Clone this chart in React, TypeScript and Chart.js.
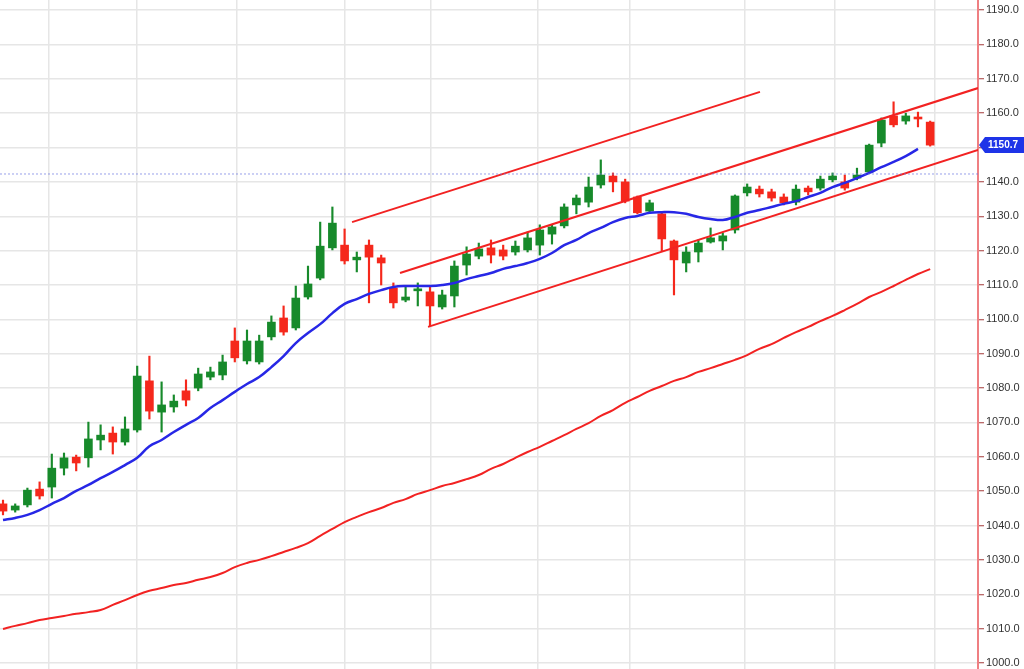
import { useEffect, useRef } from "react";
import { Chart, registerables } from "chart.js";

Chart.register(...registerables);

// ---- data (prices) ----
const opens = [1046.3,1044.5,1046.0,1050.6,1051.2,1056.7,1059.9,1059.7,1064.9,1066.9,1064.3,1067.8,1082.1,1073.0,1074.5,1079.2,1080.0,1083.2,1083.8,1093.7,1087.9,1087.6,1094.9,1100.4,1097.5,1106.5,1112.0,1120.8,1121.6,1117.3,1121.6,1117.9,1109.1,1105.6,1108.3,1108.0,1103.6,1106.8,1115.8,1118.4,1120.8,1120.2,1119.6,1120.2,1121.6,1124.8,1127.2,1133.3,1134.1,1139.1,1141.7,1140.0,1135.6,1131.5,1130.7,1122.8,1116.4,1119.6,1122.5,1122.8,1126.0,1136.8,1137.9,1137.1,1135.6,1134.1,1138.2,1138.2,1140.6,1140.0,1141.1,1142.9,1151.3,1159.2,1157.7,1158.6,1157.4];
const closes = [1044.2,1045.7,1050.3,1048.6,1056.7,1059.7,1058.2,1065.2,1066.3,1064.3,1068.1,1083.5,1073.3,1075.1,1076.2,1076.5,1084.1,1084.7,1087.6,1088.8,1093.7,1093.7,1099.2,1096.3,1106.2,1110.3,1121.3,1128.0,1117.0,1118.1,1118.1,1116.4,1104.8,1106.5,1108.8,1103.9,1107.1,1115.5,1119.0,1120.5,1118.7,1118.4,1121.3,1123.7,1126.0,1126.9,1132.7,1135.3,1138.5,1142.0,1140.0,1134.4,1131.0,1133.9,1123.4,1117.3,1119.6,1122.2,1123.7,1124.3,1135.9,1138.5,1136.5,1135.3,1133.9,1137.9,1137.1,1140.8,1141.7,1138.2,1142.0,1150.7,1158.0,1156.6,1159.2,1158.3,1150.7];
const highs = [1047.4,1046.3,1050.9,1052.7,1060.8,1061.1,1060.5,1070.1,1069.3,1068.7,1071.6,1086.4,1089.3,1081.8,1078.0,1082.4,1085.8,1086.1,1089.6,1097.5,1096.9,1095.4,1101.0,1103.9,1109.7,1115.5,1128.3,1132.7,1126.3,1119.6,1123.1,1118.7,1110.6,1109.4,1110.6,1109.4,1108.5,1117.0,1121.1,1122.2,1123.1,1121.6,1122.8,1125.4,1127.5,1127.5,1133.6,1136.2,1141.4,1146.4,1142.6,1140.8,1135.9,1134.7,1131.2,1123.1,1121.1,1123.1,1126.6,1125.1,1136.2,1139.4,1138.8,1137.9,1136.5,1139.1,1138.8,1141.7,1142.6,1142.0,1144.0,1151.0,1158.6,1163.3,1160.0,1160.3,1157.7];
const lows = [1043.1,1043.9,1045.4,1047.7,1048.0,1054.7,1055.9,1057.0,1062.0,1060.8,1063.4,1067.2,1071.0,1067.2,1073.0,1074.8,1079.2,1082.4,1082.4,1087.6,1087.0,1087.0,1094.0,1095.4,1096.9,1105.9,1111.5,1120.2,1116.1,1113.8,1104.8,1110.0,1103.3,1105.1,1103.9,1098.1,1103.0,1103.6,1112.9,1117.6,1116.4,1117.3,1118.7,1119.6,1118.7,1121.9,1126.6,1130.7,1132.7,1138.2,1137.1,1133.9,1130.7,1131.0,1119.9,1107.1,1113.8,1116.7,1122.2,1120.2,1125.1,1135.9,1135.6,1134.4,1133.3,1133.3,1136.2,1137.6,1140.0,1137.6,1140.6,1142.6,1150.2,1156.0,1156.8,1156.0,1150.4];

const maFast = [1041.6,1042.2,1043.1,1044.5,1046.3,1048.0,1050.1,1051.8,1053.8,1055.6,1057.6,1059.7,1063.1,1064.9,1067.2,1069.3,1071.3,1074.2,1076.5,1078.9,1081.2,1083.2,1086.1,1089.3,1093.1,1096.0,1098.6,1101.8,1104.5,1105.9,1107.4,1108.5,1109.4,1109.7,1109.7,1109.7,1110.0,1110.6,1111.7,1112.6,1113.5,1114.7,1115.5,1116.4,1117.6,1119.3,1121.6,1123.1,1125.1,1126.6,1128.3,1129.5,1130.1,1131.0,1131.2,1131.2,1130.7,1129.8,1129.2,1128.9,1129.8,1131.0,1131.8,1132.7,1133.6,1134.4,1135.6,1136.8,1138.5,1139.7,1141.1,1142.6,1144.3,1145.8,1147.5,1149.6,null];
const maSlow = [1009.9,1010.8,1011.6,1012.5,1013.1,1013.7,1014.3,1014.8,1015.4,1016.9,1018.3,1019.8,1021.0,1021.8,1022.7,1023.3,1024.2,1025.0,1026.2,1027.9,1029.1,1030.0,1031.1,1032.3,1033.5,1034.9,1037.0,1039.0,1041.0,1042.5,1043.9,1045.1,1046.6,1047.7,1049.2,1050.3,1051.5,1052.4,1053.5,1054.7,1056.5,1057.9,1059.7,1061.4,1062.9,1064.6,1066.3,1068.1,1069.8,1071.9,1073.6,1075.7,1077.4,1079.2,1080.6,1082.1,1083.2,1084.7,1085.8,1087.0,1088.2,1089.6,1091.4,1092.8,1094.6,1096.3,1097.8,1099.5,1101.0,1102.7,1104.5,1106.5,1108.0,1109.7,1111.5,1113.2,1114.6];

// trend lines: [startIndex, startPrice, endIndex, endPrice]
const trendUpper = [28.61, 1128.3, 62.05, 1166.2];
const trendChannelTop = [32.54, 1113.5, 79.92, 1167.3];
const trendChannelBottom = [34.84, 1097.8, 79.92, 1149.3];

const priceLine = 1142.3;
const yTicks = [1000,1010,1020,1030,1040,1050,1060,1070,1080,1090,1100,1110,1120,1130,1140,1150,1160,1170,1180,1190];
const xGridTicks = [3.77, 10.98, 19.18, 28.03, 35.08, 43.85, 51.39, 60.82, 68.2, 76.39];

const X_MIN = -0.246;
const X_MAX = 79.92;
const Y_MIN = 998.25;
const Y_MAX = 1192.93;

const GREEN = "#178a2b";
const RED = "#f5281c";

export default function App() {
  const ref = useRef<HTMLCanvasElement | null>(null);

  useEffect(() => {
    const canvas = ref.current;
    if (!canvas) return;
    const idx = opens.map((_, i) => i);
    const colors = idx.map((i) => (closes[i] >= opens[i] ? GREEN : RED));
    const lastClose = closes[closes.length - 1];

    const priceTag = {
      id: "priceTag",
      afterDraw(chart: any) {
        const ctx = chart.ctx;
        const y = chart.scales.y.getPixelForValue(lastClose);
        const x = chart.chartArea.right;
        ctx.save();
        ctx.fillStyle = "#1e34e8";
        ctx.beginPath();
        ctx.moveTo(x + 1, y);
        ctx.lineTo(x + 7, y - 8);
        ctx.lineTo(chart.width + 5, y - 8);
        ctx.lineTo(chart.width + 5, y + 8);
        ctx.lineTo(x + 7, y + 8);
        ctx.closePath();
        ctx.fill();
        ctx.fillStyle = "#ffffff";
        ctx.font = "bold 10px 'Liberation Sans', Arial, sans-serif";
        ctx.textBaseline = "middle";
        ctx.textAlign = "left";
        ctx.fillText(lastClose.toFixed(1), x + 10, y + 0.5);
        ctx.restore();
      },
    };

    const trend = (t: number[]) => [
      { x: t[0], y: t[1] },
      { x: t[2], y: t[3] },
    ];

    const chart = new Chart(canvas, {
      type: "bar",
      data: {
        datasets: [
          {
            type: "line",
            data: [
              { x: X_MIN, y: priceLine },
              { x: X_MAX, y: priceLine },
            ],
            borderColor: "rgba(110,120,225,0.7)",
            borderWidth: 1,
            borderDash: [2, 2],
            pointRadius: 0,
            order: 0,
          } as any,
          {
            type: "line",
            data: idx.map((i) => ({ x: i, y: maFast[i] })),
            borderColor: "#2727e6",
            borderWidth: 2.5,
            pointRadius: 0,
            tension: 0.4,
            spanGaps: false,
            order: 0,
          } as any,
          {
            type: "line",
            data: idx.map((i) => ({ x: i, y: maSlow[i] })),
            borderColor: "#f22222",
            borderWidth: 2,
            pointRadius: 0,
            tension: 0.4,
            order: 0,
          } as any,
          {
            type: "line",
            data: trend(trendUpper),
            borderColor: "#f22222",
            borderWidth: 2,
            pointRadius: 0,
            order: 0,
          } as any,
          {
            type: "line",
            data: trend(trendChannelTop),
            borderColor: "#f22222",
            borderWidth: 2,
            pointRadius: 0,
            order: 0,
          } as any,
          {
            type: "line",
            data: trend(trendChannelBottom),
            borderColor: "#f22222",
            borderWidth: 2,
            pointRadius: 0,
            order: 0,
          } as any,
          {
            type: "bar",
            data: idx.map((i) => ({ x: i, y: [lows[i], highs[i]] })),
            backgroundColor: colors,
            barThickness: 1.5,
            grouped: false,
            borderWidth: 0,
            borderSkipped: false,
            order: 2,
          } as any,
          {
            type: "bar",
            data: idx.map((i) => ({ x: i, y: [opens[i], closes[i]] })),
            backgroundColor: colors,
            barThickness: 8,
            minBarLength: 2,
            grouped: false,
            borderWidth: 0,
            borderSkipped: false,
            order: 1,
          } as any,
        ],
      },
      options: {
        animation: false,
        responsive: false,
        maintainAspectRatio: false,
        layout: { padding: 0 },
        plugins: {
          legend: { display: false },
          tooltip: { enabled: false },
        },
        scales: {
          x: {
            type: "linear",
            min: X_MIN,
            max: X_MAX,
            offset: false,
            grid: {
              color: "#e6e6e6",
              lineWidth: 1.5,
              drawTicks: false,
              offset: false,
            },
            border: { display: false },
            ticks: { display: false },
            afterBuildTicks: (s: any) => {
              s.ticks = xGridTicks.map((v) => ({ value: v }));
            },
            afterFit: (s: any) => {
              s.height = 0;
              s.paddingLeft = 0;
              s.paddingRight = 0;
            },
          },
          y: {
            type: "linear",
            position: "right",
            min: Y_MIN,
            max: Y_MAX,
            grid: {
              color: "#e6e6e6",
              lineWidth: 1.5,
              tickColor: "#a33a3a",
              tickLength: 6,
              tickWidth: 1,
            },
            border: { color: "#ef7f82", width: 2 },
            ticks: {
              color: "#333333",
              padding: 2,
              font: { size: 11, family: "'Liberation Sans', Arial, sans-serif" },
              callback: (v: any) => Number(v).toFixed(1),
            },
            afterBuildTicks: (s: any) => {
              s.ticks = yTicks.map((v) => ({ value: v }));
            },
            afterFit: (s: any) => {
              s.width = 46;
              s.paddingTop = 0;
              s.paddingBottom = 0;
            },
          },
        },
      } as any,
      plugins: [priceTag],
    });
    return () => chart.destroy();
  }, []);

  return (
    <div style={{ position: "fixed", left: 0, top: 0, width: 1024, height: 669, background: "#fff" }}>
      <canvas ref={ref} width={1024} height={669} style={{ display: "block" }} />
    </div>
  );
}
